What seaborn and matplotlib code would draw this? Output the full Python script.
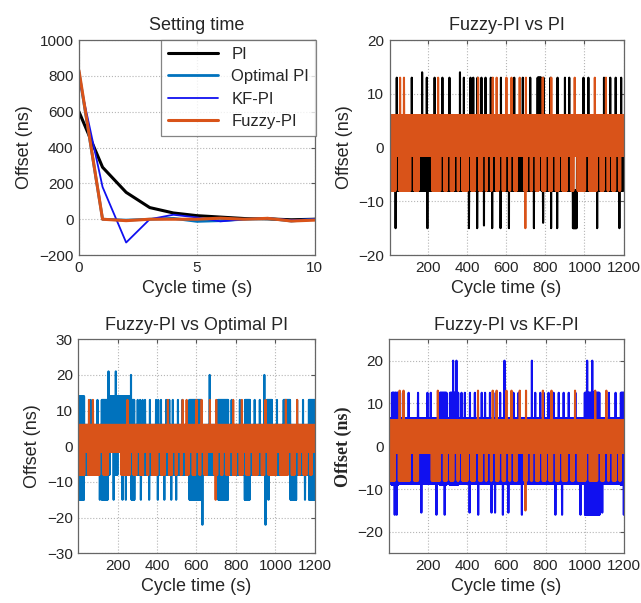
import numpy as np
import pandas as pd

import seaborn as sns
import matplotlib
matplotlib.use('Agg')
import matplotlib.pyplot as plt

# =========================
#  DATA
# =========================

# settling response, one sample per second
STEP_TIME = [0, 1, 2, 3, 4, 5, 6, 7, 8, 9, 10]
PI_STEP = [600, 290, 150, 65, 35, 20, 12, 4, 2, -3, 0]
OPT_STEP = [820, 0, -5, 0, 5, -12, -8, 0, 5, -10, 0]
KF_STEP = [790, 180, -130, 0, 25, 10, -12, 0, 5, -5, 0]
FUZZY_STEP = [830, 0, -8, 0, 0, 0, 6, 0, 5, -10, -5]

# long runs: 1200 s, band levels + blocks + single spikes
N_CYCLES = 1200

FUZZY_BAND = (6, -8)
# stretches where Fuzzy-PI only swings down to about -1.5 ns
FUZZY_BLOCK_START = [32, 109, 150, 262, 296, 331, 356, 402, 441, 476, 501, 527, 561,
                     595, 621, 655, 706, 732, 766, 800, 834, 868, 911, 945, 1005,
                     1064, 1099, 1124, 1158, 1184]
FUZZY_BLOCK_END = [50, 127, 218, 280, 314, 349, 374, 420, 459, 494, 519, 545, 579,
                   613, 639, 690, 724, 750, 784, 818, 852, 886, 929, 963, 1023,
                   1082, 1117, 1142, 1176, 1200]
FUZZY_BLOCK_HI = [6] * 30
FUZZY_BLOCK_LO = [-1.5] * 30
FUZZY_SPIKE_T = [55, 75, 250, 455, 530, 550, 600, 626, 668, 697, 700, 786, 830, 950, 1053, 1110]
FUZZY_SPIKE_V = [13, 13, 13, 13, 13, 13, 13, 13, 13, -15, 13, 13, 13, 13, 13, 13]

PI_BAND = (6, -8)
PI_BLOCK_START = [760, 940]
PI_BLOCK_END = [778, 960]
PI_BLOCK_HI = [13, -8]
PI_BLOCK_LO = [6, -15]
PI_SPIKE_T = [38, 115, 168, 192, 232, 272, 308, 362, 382, 416, 430, 452, 472, 493, 520,
              572, 640, 684, 722, 790, 826, 862, 900, 922, 995, 1020, 1100, 1132, 1160, 1188,
              32, 195, 408, 450, 485, 527, 570, 613, 741, 788, 829, 860, 1065, 1179]
PI_SPIKE_V = [13, 13, 14, 13, 13, 13, 13, 14, 13, 13, 13, 13, 13, 13, 13,
              13, 13, 13, 13, 13, 13, 13, 13, 13, 13, 13, 13, 13, 13, 13,
              -15, -15, -15, -15, -14.5, -15, -15, -15, -15, -14, -15, -15, -15, -15]

OPT_BAND = (6, -8)
OPT_BLOCK_START = [8, 120, 160, 200, 270, 564, 710, 845, 957, 1042, 1077, 1170]
OPT_BLOCK_END = [30, 150, 185, 260, 285, 625, 760, 870, 982, 1075, 1105, 1200]
OPT_BLOCK_HI = [14, 13, 14, 14, 13, 13, 13, 13, 13, 13, 6, 13]
OPT_BLOCK_LO = [-15, -15, 6, 6, -15, -15, -15, -15, 6, 6, -15, -15]
OPT_SPIKE_T = [64, 98, 302, 314, 327, 339, 364, 395, 406, 420, 446, 462, 480, 506, 528,
               778, 820, 895, 921, 1008, 1110, 1140,
               154, 191, 268, 667, 944,
               110, 180, 225, 242, 318, 360, 404, 437, 472, 497, 965, 1150,
               630, 950]
OPT_SPIKE_V = [13] * 22 + [21, 21, 20, 20, 20] + [-15] * 12 + [-22, -22]

KF_BAND = (6.5, -8.7)
KF_BLOCK_START = [15, 260, 311, 1000, 1183]
KF_BLOCK_END = [48, 294, 354, 1075, 1200]
KF_BLOCK_HI = [12.5, 12.5, 12.5, 12.5, 12.5]
KF_BLOCK_LO = [-9, -9, -9, -16, -9]
KF_SPIKE_T = [72, 101, 149, 197, 214, 371, 388, 414, 439, 474, 491, 516, 533, 550, 568,
              636, 662, 747, 773, 790, 815, 841, 867, 892, 918, 952, 1123, 1157,
              328, 345, 590, 730, 1012, 1038,
              30, 40, 166, 243, 285, 412, 456, 524, 542, 582, 610, 679, 850, 884, 978, 1089, 1199]
KF_SPIKE_V = [12.5] * 28 + [20] * 6 + [-16, -16, -15.5, -16, -16, -15.5, -16, -15.5, -15.5,
                                      -16, -15.5, -16, -16, -16, -16, -15.5, -16]

COLORS = {
    'PI': 'black',
    'Optimal PI': '#0072BD',
    'KF-PI': '#1010F0',
    'Fuzzy-PI': '#D95319',
}

TIME = np.arange(1, N_CYCLES + 1)


# =========================
#  BUILD LONG SERIES
# =========================

def build_series(band, b_start, b_end, b_hi, b_lo, spike_t, spike_v):
    hi, lo = band
    y = np.where(TIME % 2 == 0, hi, lo).astype(float)
    for s, e, h, l in zip(b_start, b_end, b_hi, b_lo):
        m = (TIME >= s) & (TIME <= e)
        y[m] = np.where(TIME[m] % 2 == 0, h, l)
    for t, v in zip(spike_t, spike_v):
        y[TIME == t] = v
    return y


# =========================
#  AXES STYLE
# =========================

def style_axes(ax):
    for sp in ax.spines.values():
        sp.set_color('#666666')
        sp.set_linewidth(0.9)
    ax.grid(True, linestyle=':', linewidth=0.8, color='#b5b5b5')
    ax.tick_params(direction='in', length=3, width=0.8, color='#555555',
                   top=True, right=True, labelsize=11, pad=4)
    ax.set_axisbelow(True)


def main():
    sns.set_style('white')
    plt.rcParams['font.family'] = ['Liberation Sans', 'DejaVu Sans']

    fuzzy = build_series(FUZZY_BAND, FUZZY_BLOCK_START, FUZZY_BLOCK_END,
                         FUZZY_BLOCK_HI, FUZZY_BLOCK_LO, FUZZY_SPIKE_T, FUZZY_SPIKE_V)
    pi = build_series(PI_BAND, PI_BLOCK_START, PI_BLOCK_END,
                      PI_BLOCK_HI, PI_BLOCK_LO, PI_SPIKE_T, PI_SPIKE_V)
    opt = build_series(OPT_BAND, OPT_BLOCK_START, OPT_BLOCK_END,
                       OPT_BLOCK_HI, OPT_BLOCK_LO, OPT_SPIKE_T, OPT_SPIKE_V)
    kf = build_series(KF_BAND, KF_BLOCK_START, KF_BLOCK_END,
                      KF_BLOCK_HI, KF_BLOCK_LO, KF_SPIKE_T, KF_SPIKE_V)

    fig = plt.figure(figsize=(6.41, 6.03), dpi=100)
    ax1 = fig.add_axes([0.1232, 0.577, 0.368, 0.3566])
    ax2 = fig.add_axes([0.6077, 0.577, 0.365, 0.3566])
    ax3 = fig.add_axes([0.1222, 0.0824, 0.369, 0.355])
    ax4 = fig.add_axes([0.6069, 0.0824, 0.3666, 0.355])

    # --- settling time
    step = pd.DataFrame({'t': STEP_TIME, 'PI': PI_STEP, 'Optimal PI': OPT_STEP,
                         'KF-PI': KF_STEP, 'Fuzzy-PI': FUZZY_STEP})
    widths = {'PI': 2.2, 'Optimal PI': 2.0, 'KF-PI': 1.3, 'Fuzzy-PI': 2.2}
    for name in ['PI', 'Optimal PI', 'KF-PI', 'Fuzzy-PI']:
        sns.lineplot(data=step, x='t', y=name, ax=ax1, color=COLORS[name],
                     linewidth=widths[name], label=name)
    ax1.set_xlim(0, 10)
    ax1.set_ylim(-200, 1000)
    ax1.set_xticks([0, 5, 10])
    ax1.set_yticks(range(-200, 1001, 200))
    ax1.set_title('Setting time', fontsize=13, pad=7)
    ax1.set_xlabel('Cycle time (s)', fontsize=13)
    ax1.set_ylabel('Offset (ns)', fontsize=13)
    leg = ax1.legend(loc='upper right', bbox_to_anchor=(1.005, 1.0), fontsize=12,
                     frameon=True, fancybox=False, edgecolor='#666666',
                     handlelength=3.0, borderaxespad=0, labelspacing=0.45,
                     borderpad=0.4)
    leg.get_frame().set_linewidth(0.9)

    # --- long runs
    panels = [
        (ax2, pi, 'PI', 'Fuzzy-PI vs PI', (-20, 20), range(-20, 21, 10)),
        (ax3, opt, 'Optimal PI', 'Fuzzy-PI vs Optimal PI', (-30, 30), range(-30, 31, 10)),
        (ax4, kf, 'KF-PI', 'Fuzzy-PI vs KF-PI', (-25, 25), range(-20, 21, 10)),
    ]
    for ax, other, name, title, ylim, yticks in panels:
        sns.lineplot(x=TIME, y=other, ax=ax, color=COLORS[name], linewidth=1.5)
        sns.lineplot(x=TIME, y=fuzzy, ax=ax, color=COLORS['Fuzzy-PI'], linewidth=1.5)
        ax.set_xlim(1, N_CYCLES)
        ax.set_ylim(*ylim)
        ax.set_xticks(range(200, 1201, 200))
        ax.set_yticks(list(yticks))
        ax.set_title(title, fontsize=13, pad=7)
        ax.set_xlabel('Cycle time (s)', fontsize=13)
        ax.set_ylabel('Offset (ns)', fontsize=13)

    ax4.set_ylabel('Offset (ns)', fontsize=13, fontweight='bold',
                   family=['Liberation Serif', 'DejaVu Serif'])

    for ax in [ax1, ax2, ax3, ax4]:
        style_axes(ax)

    fig.savefig('out.png', dpi=100)
    plt.close(fig)


if __name__ == '__main__':
    main()
